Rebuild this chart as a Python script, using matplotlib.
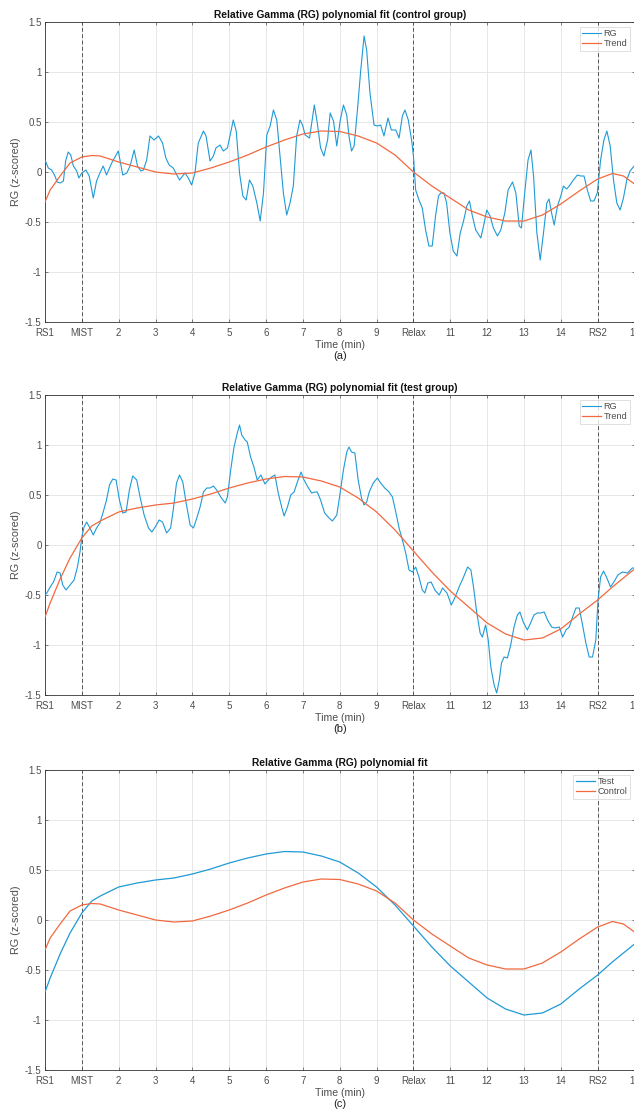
import numpy as np
import matplotlib
matplotlib.use('Agg')
import matplotlib.pyplot as plt

plt.rcParams['font.family'] = ['Liberation Sans', 'DejaVu Sans']

# time axis labels
tick_pos = list(range(0, 17))
tick_labels = ['RS1', 'MIST', '2', '3', '4', '5', '6', '7', '8', '9', 'Relax',
               '11', '12', '13', '14', 'RS2', '16']
phase_marks = [1, 10, 15]

# control group raw RG
ctrl_x = [0, 0.09, 0.18, 0.27, 0.33, 0.41, 0.5, 0.56, 0.63, 0.7, 0.77, 0.86, 0.92, 1.0,
          1.11, 1.2, 1.31, 1.4, 1.49, 1.58, 1.67, 1.81, 1.99, 2.11, 2.22, 2.31, 2.42,
          2.51, 2.6, 2.67, 2.76, 2.85, 2.96, 3.08, 3.19, 3.28, 3.37, 3.48, 3.65, 3.8,
          3.89, 3.98, 4.07, 4.16, 4.3, 4.37, 4.48, 4.57, 4.64, 4.75, 4.84, 4.95, 5.02,
          5.11, 5.19, 5.28, 5.37, 5.46, 5.55, 5.64, 5.75, 5.84, 5.93, 6.02, 6.11, 6.2,
          6.29, 6.38, 6.47, 6.56, 6.65, 6.74, 6.83, 6.92, 6.99, 7.06, 7.18, 7.24, 7.31,
          7.39, 7.48, 7.57, 7.67, 7.74, 7.83, 7.92, 8.01, 8.1, 8.19, 8.25, 8.32, 8.39,
          8.48, 8.57, 8.66, 8.73, 8.82, 8.93, 9.02, 9.11, 9.2, 9.31, 9.4, 9.52, 9.61,
          9.7, 9.77, 9.86, 9.95, 10.0, 10.06, 10.15, 10.24, 10.33, 10.42, 10.51, 10.6,
          10.68, 10.74, 10.83, 10.9, 10.99, 11.08, 11.18, 11.27, 11.36, 11.45, 11.52,
          11.6, 11.69, 11.83, 11.92, 11.99, 12.08, 12.17, 12.28, 12.37, 12.48, 12.57,
          12.69, 12.78, 12.87, 12.93, 13.02, 13.11, 13.19, 13.26, 13.35, 13.44, 13.53,
          13.62, 13.68, 13.75, 13.82, 13.91, 14.0, 14.07, 14.16, 14.25, 14.34, 14.45,
          14.54, 14.63, 14.72, 14.81, 14.9, 14.99, 15.08, 15.17, 15.25, 15.34, 15.43,
          15.52, 15.61, 15.7, 15.79, 15.88, 15.99]
ctrl_rg = [0.12, 0.04, 0.02, -0.04, -0.10, -0.11, -0.09, 0.11, 0.2, 0.17, 0.06, 0.01,
           -0.06, -0.01, 0.02, -0.04, -0.26, -0.09, -0.01, 0.06, -0.03, 0.09, 0.21,
           -0.03, -0.01, 0.06, 0.22, 0.06, 0.01, 0.02, 0.12, 0.36, 0.32, 0.36, 0.29,
           0.14, 0.07, 0.04, -0.08, -0.01, -0.06, -0.13, -0.01, 0.29, 0.41, 0.36, 0.11,
           0.16, 0.24, 0.27, 0.21, 0.24, 0.36, 0.52, 0.41, -0.01, -0.24, -0.28, -0.08,
           -0.14, -0.31, -0.49, -0.21, 0.37, 0.46, 0.62, 0.52, 0.16, -0.21, -0.43,
           -0.31, -0.14, 0.36, 0.52, 0.47, 0.37, 0.34, 0.49, 0.67, 0.49, 0.24, 0.16,
           0.32, 0.59, 0.51, 0.26, 0.51, 0.67, 0.57, 0.36, 0.21, 0.26, 0.62, 1.02, 1.36,
           1.22, 0.79, 0.47, 0.46, 0.47, 0.36, 0.54, 0.42, 0.42, 0.34, 0.56, 0.62, 0.52,
           0.32, 0.16, -0.18, -0.28, -0.36, -0.58, -0.74, -0.74, -0.44, -0.24, -0.21,
           -0.21, -0.31, -0.61, -0.79, -0.84, -0.61, -0.49, -0.34, -0.29, -0.44, -0.58,
           -0.66, -0.51, -0.38, -0.44, -0.56, -0.64, -0.58, -0.41, -0.18, -0.10, -0.21,
           -0.54, -0.56, -0.21, 0.12, 0.22, -0.04, -0.61, -0.88, -0.61, -0.31, -0.27,
           -0.41, -0.53, -0.34, -0.24, -0.14, -0.17, -0.13, -0.08, -0.03, -0.04, -0.04,
           -0.18, -0.29, -0.29, -0.21, 0.12, 0.32, 0.41, 0.26, -0.08, -0.31, -0.38,
           -0.26, -0.08, 0.01, 0.06]

# test group raw RG
test_x = [0, 0.05, 0.14, 0.23, 0.33, 0.41, 0.48, 0.57, 0.68, 0.79, 0.88, 0.95, 1.0, 1.06,
          1.13, 1.22, 1.31, 1.4, 1.49, 1.58, 1.67, 1.75, 1.84, 1.93, 2.02, 2.11, 2.2,
          2.29, 2.38, 2.49, 2.58, 2.69, 2.81, 2.9, 2.99, 3.1, 3.19, 3.3, 3.41, 3.48,
          3.57, 3.65, 3.74, 3.83, 3.94, 4.03, 4.12, 4.21, 4.3, 4.39, 4.48, 4.57, 4.66,
          4.77, 4.89, 4.95, 5.04, 5.13, 5.22, 5.28, 5.34, 5.43, 5.49, 5.58, 5.67, 5.76,
          5.86, 5.97, 6.06, 6.15, 6.24, 6.33, 6.43, 6.49, 6.58, 6.67, 6.76, 6.85, 6.95,
          7.03, 7.15, 7.24, 7.33, 7.39, 7.48, 7.59, 7.71, 7.8, 7.92, 8.01, 8.1, 8.19,
          8.25, 8.32, 8.41, 8.5, 8.59, 8.66, 8.73, 8.8, 8.91, 9.02, 9.11, 9.22, 9.34,
          9.43, 9.52, 9.61, 9.7, 9.79, 9.88, 9.97, 10.06, 10.15, 10.24, 10.31, 10.39,
          10.48, 10.58, 10.7, 10.79, 10.91, 11.03, 11.12, 11.24, 11.36, 11.47, 11.56,
          11.63, 11.72, 11.81, 11.87, 11.96, 12.03, 12.1, 12.19, 12.26, 12.33, 12.39,
          12.46, 12.55, 12.64, 12.73, 12.82, 12.89, 12.98, 13.09, 13.18, 13.27, 13.36,
          13.45, 13.55, 13.64, 13.75, 13.84, 13.96, 14.05, 14.14, 14.23, 14.32, 14.41,
          14.5, 14.59, 14.68, 14.77, 14.86, 14.95, 15.01, 15.08, 15.16, 15.25, 15.35,
          15.44, 15.55, 15.67, 15.81, 15.94, 15.99]
test_rg = [-0.5, -0.48, -0.42, -0.37, -0.27, -0.28, -0.4, -0.45, -0.4, -0.35, -0.22,
           -0.07, 0.08, 0.18, 0.23, 0.17, 0.1, 0.17, 0.22, 0.33, 0.45, 0.6, 0.66, 0.65,
           0.45, 0.32, 0.33, 0.55, 0.69, 0.65, 0.48, 0.3, 0.17, 0.13, 0.18, 0.25, 0.23,
           0.12, 0.17, 0.35, 0.62, 0.7, 0.63, 0.42, 0.2, 0.17, 0.27, 0.38, 0.53, 0.57,
           0.57, 0.59, 0.55, 0.48, 0.42, 0.48, 0.75, 0.98, 1.12, 1.2, 1.1, 1.05, 1.03,
           0.88, 0.78, 0.65, 0.7, 0.61, 0.65, 0.68, 0.7, 0.52, 0.37, 0.29, 0.38, 0.5,
           0.53, 0.63, 0.73, 0.65, 0.57, 0.52, 0.53, 0.53, 0.45, 0.32, 0.27, 0.24, 0.3,
           0.52, 0.75, 0.93, 0.98, 0.93, 0.92, 0.65, 0.47, 0.4, 0.43, 0.53, 0.62, 0.67,
           0.62, 0.57, 0.53, 0.48, 0.33, 0.17, 0.05, -0.08, -0.25, -0.27, -0.22, -0.32,
           -0.45, -0.48, -0.38, -0.37, -0.45, -0.5, -0.43, -0.48, -0.6, -0.53, -0.42,
           -0.32, -0.22, -0.25, -0.42, -0.68, -0.88, -0.92, -0.8, -0.95, -1.22, -1.4,
           -1.48, -1.35, -1.18, -1.12, -1.13, -1.0, -0.82, -0.7, -0.67, -0.77, -0.85,
           -0.78, -0.7, -0.68, -0.68, -0.67, -0.75, -0.82, -0.83, -0.82, -0.92, -0.85,
           -0.82, -0.72, -0.63, -0.63, -0.8, -0.98, -1.12, -1.12, -0.95, -0.55, -0.32,
           -0.26, -0.33, -0.42, -0.37, -0.3, -0.27, -0.28, -0.23, -0.23]

# polynomial trends
trend_x = [0, 0.14, 0.41, 0.68, 1.0, 1.27, 1.5, 2.0, 2.5, 3.0, 3.5, 4.0, 4.5, 5.0, 5.5,
           6.0, 6.5, 7.0, 7.5, 8.0, 8.5, 9.0, 9.5, 10.0, 10.5, 11.0, 11.5, 12.0, 12.5,
           13.0, 13.5, 14.0, 14.5, 15.0, 15.4, 15.7, 16.0]
ctrl_trend = [-0.3, -0.18, -0.04, 0.09, 0.15, 0.165, 0.16, 0.1, 0.05, 0.0, -0.02,
              -0.01, 0.04, 0.1, 0.17, 0.25, 0.32, 0.38, 0.41, 0.405, 0.36, 0.29, 0.17,
              0.0, -0.14, -0.26, -0.38, -0.45, -0.49, -0.49, -0.43, -0.32, -0.19, -0.07,
              -0.015, -0.04, -0.12]
test_trend = [-0.72, -0.58, -0.34, -0.13, 0.07, 0.19, 0.24, 0.33, 0.37, 0.4, 0.42,
              0.46, 0.51, 0.57, 0.62, 0.66, 0.685, 0.68, 0.64, 0.58, 0.47, 0.33, 0.15,
              -0.06, -0.27, -0.46, -0.62, -0.78, -0.89, -0.95, -0.93, -0.84, -0.69,
              -0.55, -0.42, -0.33, -0.24]

blue = '#1f9ad6'
orange = '#f2693f'
gray = '#4d4d4d'

fig = plt.figure(figsize=(6.34, 11.09), dpi=100)

def setup_axes(rect, title, caption):
    ax = fig.add_axes(rect)
    ax.set_xlim(0, 16)
    ax.set_ylim(-1.5, 1.5)
    ax.set_xticks(tick_pos)
    ax.set_xticklabels(tick_labels)
    ax.set_yticks([-1.5, -1, -0.5, 0, 0.5, 1, 1.5])
    ax.set_yticklabels(['-1.5', '-1', '-0.5', '0', '0.5', '1', '1.5'])
    ax.grid(True, color='#e3e3e3', linewidth=0.6)
    ax.set_axisbelow(True)
    ax.tick_params(direction='in', length=2.5, width=0.5, labelsize=7,
                   colors=gray, top=True, right=True)
    ax.tick_params(axis='x', pad=4)
    ax.tick_params(axis='y', pad=2.5)
    for s in ax.spines.values():
        s.set_color('#333333')
        s.set_linewidth(0.6)
    for xm in phase_marks:
        ax.axvline(xm, color='#555555', linestyle=(0, (4, 2.5)), linewidth=0.7, zorder=1)
    ax.set_title(title, fontsize=7.4, fontweight='bold', pad=3, color='#111111')
    ax.set_ylabel('RG (z-scored)', fontsize=7.8, color=gray, labelpad=3)
    ax.set_xlabel('Time (min)', fontsize=7.6, color=gray, labelpad=2)
    ax.text(0.5, -0.098, caption, transform=ax.transAxes, ha='center', va='top',
            fontsize=8, color='#222222')
    return ax

def add_legend(ax):
    leg = ax.legend(loc='upper right', fontsize=6.6, frameon=True, fancybox=False,
                    handlelength=2.0, handletextpad=0.3, borderpad=0.3,
                    labelspacing=0.1, borderaxespad=0.5)
    leg.get_frame().set_edgecolor('#c8c8c8')
    leg.get_frame().set_linewidth(0.5)
    for t in leg.get_texts():
        t.set_color(gray)

W = 589.5 / 634
ax1 = setup_axes([45 / 634, 1 - 322 / 1109, W, 300 / 1109],
                 'Relative Gamma (RG) polynomial fit (control group)', '(a)')
ax1.plot(ctrl_x, ctrl_rg, color=blue, linewidth=0.8, label='RG', zorder=3)
ax1.plot(trend_x, ctrl_trend, color=orange, linewidth=0.9, label='Trend', zorder=3)
add_legend(ax1)

ax2 = setup_axes([45 / 634, 1 - 695 / 1109, W, 300 / 1109],
                 'Relative Gamma (RG) polynomial fit (test group)', '(b)')
ax2.plot(test_x, test_rg, color=blue, linewidth=0.8, label='RG', zorder=3)
ax2.plot(trend_x, test_trend, color=orange, linewidth=0.9, label='Trend', zorder=3)
add_legend(ax2)

ax3 = setup_axes([45 / 634, 1 - 1070 / 1109, W, 300 / 1109],
                 'Relative Gamma (RG) polynomial fit', '(c)')
ax3.plot(trend_x, test_trend, color=blue, linewidth=0.9, label='Test', zorder=3)
ax3.plot(trend_x, ctrl_trend, color=orange, linewidth=0.9, label='Control', zorder=3)
add_legend(ax3)

fig.savefig('out.png', dpi=100, facecolor='white')
